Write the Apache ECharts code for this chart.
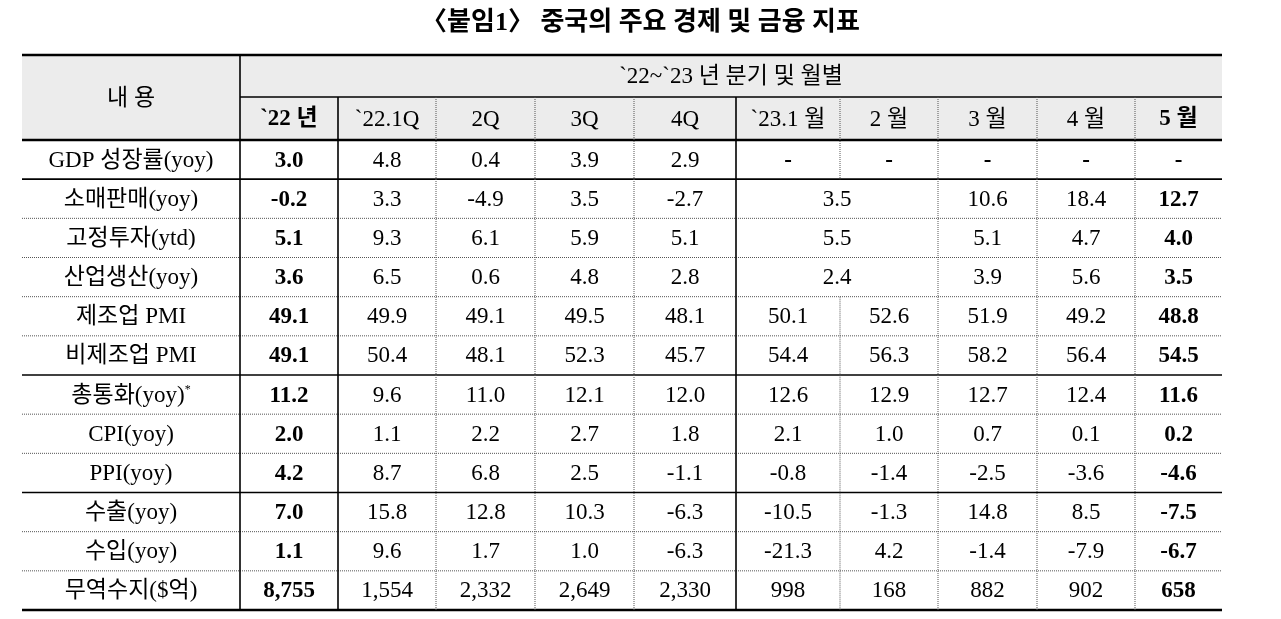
<!DOCTYPE html>
<html>
<head>
<meta charset="utf-8">
<script src="https://cdn.jsdelivr.net/npm/echarts@6/dist/echarts.min.js"></script>
<style>html,body{margin:0;background:#fff}#main{width:1281px;height:619px}</style>
</head>
<body>
<div id="main"></div>
<script type="text/javascript">
var titleText = '〈붙임1〉 중국의 주요 경제 및 금융 지표';
var groupHeader = '`22~`23 년 분기 및 월별';
var cornerHeader = '내 용';
var colLabels = ['`22 년', '`22.1Q', '2Q', '3Q', '4Q', '`23.1 월', '2 월', '3 월', '4 월', '5 월'];
var rowLabels = ['GDP 성장률(yoy)', '소매판매(yoy)', '고정투자(ytd)', '산업생산(yoy)', '제조업 PMI', '비제조업 PMI',
                 '총통화(yoy)*', 'CPI(yoy)', 'PPI(yoy)', '수출(yoy)', '수입(yoy)', '무역수지($억)'];
// null = merged into cell on its left
var values = [
    ['3.0', '4.8', '0.4', '3.9', '2.9', '-', '-', '-', '-', '-'],
    ['-0.2', '3.3', '-4.9', '3.5', '-2.7', '3.5', null, '10.6', '18.4', '12.7'],
    ['5.1', '9.3', '6.1', '5.9', '5.1', '5.5', null, '5.1', '4.7', '4.0'],
    ['3.6', '6.5', '0.6', '4.8', '2.8', '2.4', null, '3.9', '5.6', '3.5'],
    ['49.1', '49.9', '49.1', '49.5', '48.1', '50.1', '52.6', '51.9', '49.2', '48.8'],
    ['49.1', '50.4', '48.1', '52.3', '45.7', '54.4', '56.3', '58.2', '56.4', '54.5'],
    ['11.2', '9.6', '11.0', '12.1', '12.0', '12.6', '12.9', '12.7', '12.4', '11.6'],
    ['2.0', '1.1', '2.2', '2.7', '1.8', '2.1', '1.0', '0.7', '0.1', '0.2'],
    ['4.2', '8.7', '6.8', '2.5', '-1.1', '-0.8', '-1.4', '-2.5', '-3.6', '-4.6'],
    ['7.0', '15.8', '12.8', '10.3', '-6.3', '-10.5', '-1.3', '14.8', '8.5', '-7.5'],
    ['1.1', '9.6', '1.7', '1.0', '-6.3', '-21.3', '4.2', '-1.4', '-7.9', '-6.7'],
    ['8,755', '1,554', '2,332', '2,649', '2,330', '998', '168', '882', '902', '658']
];
var boldCols = [0, 9];

// layout (table units = px inside grid)
var colEdges = [0, 218, 316, 414, 513, 612, 714, 818, 916, 1015, 1113, 1200];
var rowH = (555 - 85) / 12;
function rowTop(r) { return 85 + r * rowH; }
var solidAfterRows = [0, 5, 8];
var solidCols = [1, 2, 6];
var FONT = '"Liberation Serif", "Noto Sans CJK KR", serif';

// cells: [x0, y0, x1, y1, text, bold, bg]
var cells = [];
cells.push([0, 0, 218, 85, cornerHeader, 0, 1]);
cells.push([218, 0, 1200, 42, groupHeader, 0, 1]);
colLabels.forEach(function (c, i) {
    cells.push([colEdges[i + 1], 42, colEdges[i + 2], 85, c, (i === 0 || i === 9) ? 1 : 0, 1]);
});
rowLabels.forEach(function (lab, r) {
    cells.push([0, rowTop(r), 218, rowTop(r + 1), lab, 0, 0]);
    values[r].forEach(function (v, c) {
        if (v === null) return;
        var end = c + 1;
        while (end < values[r].length && values[r][end] === null) end++;
        var b = boldCols.indexOf(c) >= 0 || v === '-' ? 1 : 0;
        cells.push([colEdges[c + 1], rowTop(r), colEdges[end + 1], rowTop(r + 1), v, b, 0]);
    });
});

// lines: [x0, y0, x1, y1, style] style 0 dotted, 1 solid, 2 thick
var lines = [];
lines.push([0, 0, 1200, 0, 2]);
lines.push([218, 42, 1200, 42, 1]);
lines.push([0, 85, 1200, 85, 2]);
lines.push([0, 555, 1200, 555, 2]);
for (var r = 1; r < 12; r++) {
    lines.push([0, rowTop(r), 1200, rowTop(r), solidAfterRows.indexOf(r - 1) >= 0 ? 1 : 0]);
}
lines.push([218, 0, 218, 555, 1]);
for (var c = 2; c < colEdges.length - 1; c++) {
    var solid = solidCols.indexOf(c) >= 0 ? 1 : 0;
    if (c === 7) {
        lines.push([colEdges[c], 42, colEdges[c], rowTop(1), solid]);
        lines.push([colEdges[c], rowTop(4), colEdges[c], 555, solid]);
        continue;
    }
    lines.push([colEdges[c], 42, colEdges[c], 555, solid]);
}

var myChart = echarts.init(document.getElementById('main'));
var option = {
    animation: false,
    title: {
        text: titleText, left: 'center', top: 5,
        textStyle: { fontFamily: FONT, fontSize: 26, fontWeight: 'bold', color: '#000' }
    },
    grid: { left: 22, right: 59, top: 55, bottom: 9 },
    xAxis: { type: 'value', min: 0, max: 1200, show: false },
    yAxis: { type: 'value', min: 0, max: 555, inverse: true, show: false },
    series: [
        {
            type: 'custom',
            data: cells,
            z: 1,
            renderItem: function (params, api) {
                var p0 = api.coord([api.value(0), api.value(1)]);
                var p1 = api.coord([api.value(2), api.value(3)]);
                var d = cells[params.dataIndex];
                var txt = d[4];
                var rich = {
                    n: { fontFamily: FONT, fontSize: 23, fontWeight: d[5] ? 'bold' : 'normal', fill: '#000' },
                    s: { fontFamily: FONT, fontSize: 12, verticalAlign: 'top', padding: [0, 0, 12, 0] }
                };
                var str = '{n|' + txt + '}';
                if (txt.charAt(txt.length - 1) === '*') str = '{n|' + txt.slice(0, -1) + '}{s|*}';
                return {
                    type: 'group',
                    children: [
                        {
                            type: 'rect',
                            shape: { x: p0[0], y: p0[1], width: p1[0] - p0[0], height: p1[1] - p0[1] },
                            style: { fill: d[6] ? '#ececec' : '#fff' }
                        },
                        {
                            type: 'text',
                            x: (p0[0] + p1[0]) / 2, y: (p0[1] + p1[1]) / 2 + 1,
                            style: { text: str, rich: rich, align: 'center', verticalAlign: 'middle',
                                     fontFamily: FONT, fontSize: 23, fill: '#000' }
                        }
                    ]
                };
            }
        },
        {
            type: 'custom',
            data: lines,
            z: 2,
            renderItem: function (params, api) {
                var p0 = api.coord([api.value(0), api.value(1)]);
                var p1 = api.coord([api.value(2), api.value(3)]);
                var st = api.value(4);
                return {
                    type: 'line',
                    shape: { x1: p0[0], y1: p0[1], x2: p1[0], y2: p1[1] },
                    style: {
                        stroke: st ? '#000' : '#555',
                        lineWidth: st === 2 ? 2.5 : (st === 1 ? 1.6 : 1),
                        lineDash: st ? null : [1, 1]
                    }
                };
            }
        }
    ]
};
myChart.setOption(option);
</script>
</body>
</html>
